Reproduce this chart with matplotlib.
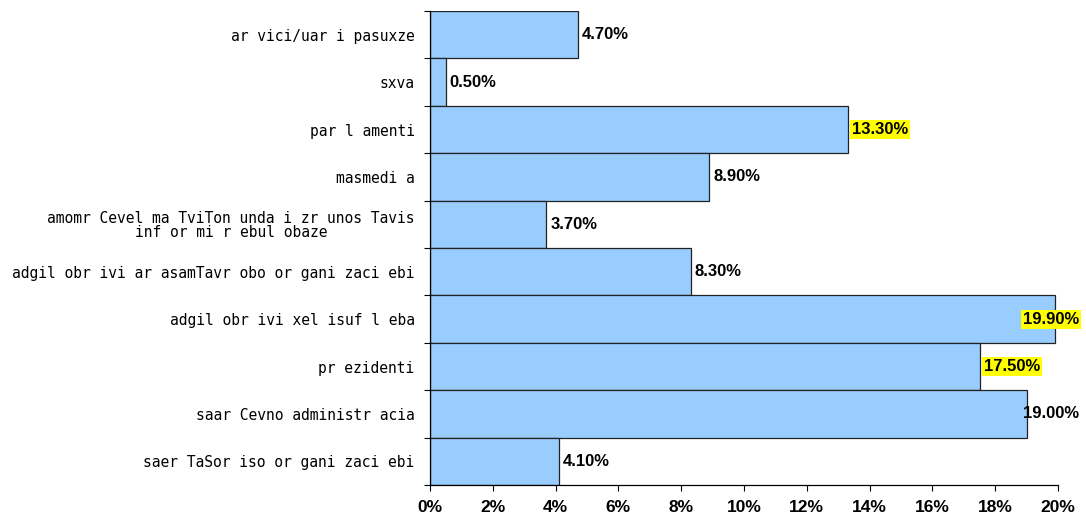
import matplotlib
matplotlib.use("Agg")
import matplotlib.pyplot as plt
from matplotlib.ticker import FixedLocator, PercentFormatter

categories = [
    "ar vici/uar i pasuxze",
    "sxva",
    "par l amenti",
    "masmedi a",
    "amomr Cevel ma TviTon unda i zr unos Tavis\ninf or mi r ebul obaze",
    "adgil obr ivi ar asamTavr obo or gani zaci ebi",
    "adgil obr ivi xel isuf l eba",
    "pr ezidenti",
    "saar Cevno administr acia",
    "saer TaSor iso or gani zaci ebi",
]
values = [4.7, 0.5, 13.3, 8.9, 3.7, 8.3, 19.9, 17.5, 19.0, 4.1]
highlight = [False, False, True, False, False, False, True, True, False, False]
x_ticks = [0, 2, 4, 6, 8, 10, 12, 14, 16, 18, 20]

plt.rcParams["font.family"] = ["Liberation Sans", "DejaVu Sans"]

fig = plt.figure(figsize=(10.86, 5.18), dpi=100)
ax = fig.add_axes([430 / 1086, 33 / 518, 628 / 1086, 474 / 518])

n = len(categories)
ypos = list(range(n))
ax.barh(ypos, values, height=1.0, color="#99CCFF", edgecolor="#222222",
        linewidth=0.9)

ax.set_xlim(0, 20)
ax.set_ylim(n - 0.5, -0.5)

ax.set_xticks(x_ticks)
ax.xaxis.set_major_formatter(PercentFormatter(decimals=0))
ax.tick_params(axis="x", direction="out", length=4, width=0.8,
               labelsize=12.5, pad=7)
for lbl in ax.get_xticklabels():
    lbl.set_fontweight("bold")

ax.set_yticks(ypos)
ax.set_yticklabels(categories, fontsize=10.5, family="DejaVu Sans Mono",
                   linespacing=0.95, multialignment="center")
ax.tick_params(axis="y", which="major", length=0, pad=11)
ax.yaxis.set_minor_locator(FixedLocator([i - 0.5 for i in range(n + 1)]))
ax.tick_params(axis="y", which="minor", direction="out", length=4, width=0.8)

for side in ("top", "right"):
    ax.spines[side].set_visible(False)
for side in ("left", "bottom"):
    ax.spines[side].set_linewidth(0.9)

for i, (v, hl) in enumerate(zip(values, highlight)):
    text = f"{v:.2f}%"
    box = dict(facecolor="yellow", edgecolor="none", pad=1.5) if hl else None
    if v > 18.5:
        ax.annotate(text, xy=(0.994, i), xycoords=("figure fraction", "data"),
                    ha="right", va="center", fontsize=12,
                    fontweight="bold", bbox=box)
    else:
        ax.annotate(text, xy=(v, i), xytext=(3, 0), textcoords="offset points",
                    ha="left", va="center", fontsize=12,
                    fontweight="bold", bbox=box)

fig.savefig("out.png", dpi=100)
